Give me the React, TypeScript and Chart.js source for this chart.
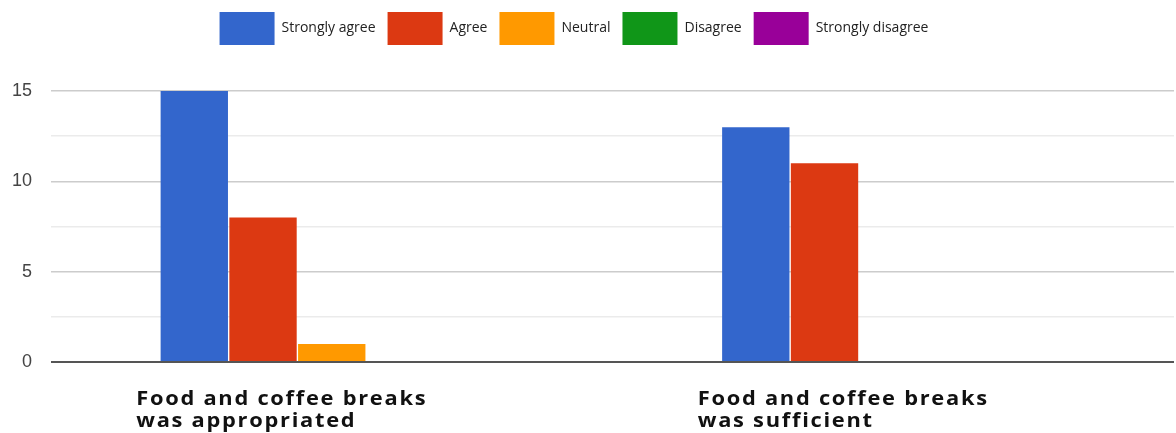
import React, { useEffect, useRef } from "react";
import { Chart, registerables } from "chart.js";

Chart.register(...registerables);

const categories: string[][] = [
  ["Food and coffee breaks", "was appropriated"],
  ["Food and coffee breaks", "was sufficient"],
];
const seriesNames = ["Strongly agree", "Agree", "Neutral", "Disagree", "Strongly disagree"];
const stronglyAgree = [15, 13];
const agree = [8, 11];
const neutral = [1, 0];
const disagree = [0, 0];
const stronglyDisagree = [0, 0];
const seriesColors = ["#3366cc", "#dc3912", "#ff9900", "#109618", "#990099"];
const yTicks = [0, 5, 10, 15];

const LABEL_SHIFT = -50;
const LEGEND_SHIFT = -13;
const LABEL_STRETCH = 1.15;

const legendSpacer = {
  id: "legendSpacer",
  beforeInit(chart: any) {
    const orig = chart.legend.fit;
    chart.legend.fit = function () {
      orig.bind(chart.legend)();
      this.height += 36;
    };
  },
  afterLayout(chart: any) {
    chart.legend.left += LEGEND_SHIFT;
    chart.legend.right += LEGEND_SHIFT;
  },
};

const xLabels = {
  id: "xLabels",
  afterDraw(chart: any) {
    const ctx = chart.ctx;
    const xs = chart.scales.x;
    const area = chart.chartArea;
    ctx.save();
    ctx.font = 'bold 19px "Open Sans"';
    (ctx as any).letterSpacing = "1.5px";
    ctx.fillStyle = "#111";
    ctx.textAlign = "left";
    ctx.textBaseline = "alphabetic";
    categories.forEach((lines, i) => {
      const c = xs.getPixelForValue(i);
      const w = Math.max(...lines.map((l) => ctx.measureText(l).width)) * LABEL_STRETCH;
      const x0 = c - w / 2 + LABEL_SHIFT;
      lines.forEach((l, j) => {
        ctx.save();
        ctx.translate(x0, area.bottom + 43 + j * 22);
        ctx.scale(LABEL_STRETCH, 1);
        ctx.fillText(l, 0, 0);
        ctx.restore();
      });
    });
    ctx.restore();
  },
};

export default function App() {
  const ref = useRef<HTMLCanvasElement>(null);
  useEffect(() => {
    document.body.style.margin = "0";
    const values = [stronglyAgree, agree, neutral, disagree, stronglyDisagree];
    const chart = new Chart(ref.current!, {
      type: "bar",
      data: {
        labels: categories.map((c) => c.join(" ")),
        datasets: seriesNames.map((name, i) => ({
          label: name,
          data: values[i],
          backgroundColor: seriesColors[i],
          borderWidth: 0,
          categoryPercentage: 0.612,
          barPercentage: 0.98,
        })),
      },
      options: {
        animation: false,
        responsive: true,
        maintainAspectRatio: false,
        layout: { padding: { top: 0, left: 0, right: 2, bottom: 71 } },
        plugins: {
          legend: {
            position: "top",
            labels: {
              boxWidth: 55,
              boxHeight: 33,
              padding: 12,
              color: "#222",
              font: { family: '"Open Sans"', size: 14 },
            },
          },
          tooltip: { enabled: false },
        },
        scales: {
          x: {
            display: false,
            grid: { display: false },
          },
          y: {
            min: 0,
            max: 15,
            border: { display: false },
            afterFit: (scale: any) => {
              scale.width = 51;
            },
            ticks: {
              stepSize: 2.5,
              padding: 19,
              color: "#444",
              font: { family: '"Liberation Sans"', size: 18 },
              callback: (v: any) => (yTicks.includes(Number(v)) ? String(v) : ""),
            },
            grid: {
              drawTicks: false,
              color: (ctx: any) =>
                ctx.tick && ctx.tick.value === 0
                  ? "#555"
                  : yTicks.includes(ctx.tick?.value)
                  ? "#cccccc"
                  : "#ebebeb",
              lineWidth: (ctx: any) => (ctx.tick && ctx.tick.value === 0 ? 2 : 1.5),
            },
          },
        },
      },
      plugins: [legendSpacer, xLabels],
    });
    return () => chart.destroy();
  }, []);
  return (
    <div style={{ width: 1176, height: 433, position: "relative", background: "#fff" }}>
      <canvas ref={ref} />
    </div>
  );
}
